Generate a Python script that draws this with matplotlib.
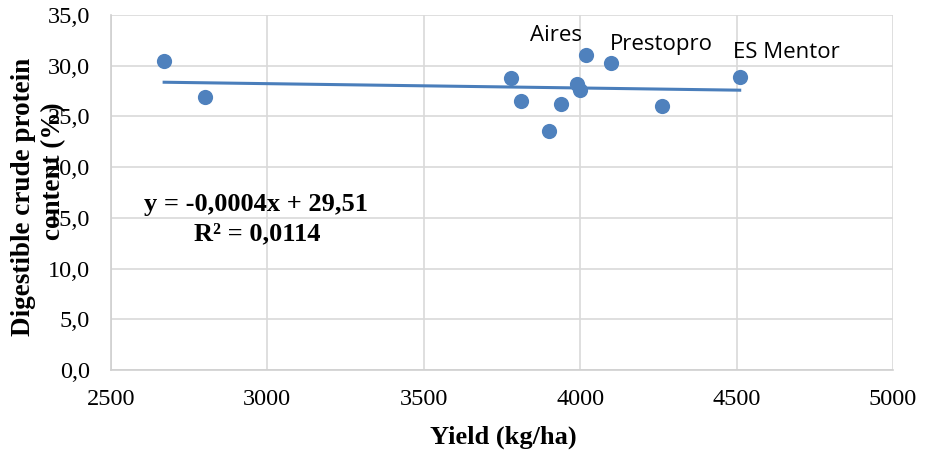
import numpy as np
import matplotlib
matplotlib.use("Agg")
import matplotlib.pyplot as plt
from matplotlib.ticker import FuncFormatter

# Rendement (kg/ha) et teneur en protéines brutes digestibles (%)
yield_kg = [2670, 2800, 3780, 3810, 3900, 3940, 3990, 4000, 4020, 4100, 4260, 4510]
protein = [30.5, 26.9, 28.8, 26.5, 23.6, 26.2, 28.2, 27.6, 31.1, 30.3, 26.0, 28.9]
label_names = ["Aires", "Prestopro", "ES Mentor"]
label_points = [(4020, 31.1), (4100, 30.3), (4510, 28.9)]

x_ticks = [2500, 3000, 3500, 4000, 4500, 5000]
y_ticks = [0, 5, 10, 15, 20, 25, 30, 35]

serif = ["Liberation Serif", "DejaVu Serif"]
sans = ["Open Sans", "DejaVu Sans"]

fig = plt.figure(figsize=(9.27, 4.53), dpi=100)
ax = fig.add_axes([0.1197, 0.1832, 0.8436, 0.7837])

ax.scatter(yield_kg, protein, s=120, color="#4f81bd", zorder=3, linewidths=0)

# Droite de tendance linéaire (sur l'étendue des données)
a, b = np.polyfit(yield_kg, protein, 1)
xs = np.array([min(yield_kg), max(yield_kg)])
ax.plot(xs, a * xs + b, color="#4a7ebb", lw=2.2, zorder=2)

offsets = [(-22, 14), (36, 13), (33.5, 17.5)]
for name, pt, off in zip(label_names, label_points, offsets):
    ax.annotate(name, pt, xytext=off, textcoords="offset points",
                ha="center", va="center", fontsize=16, family=sans, color="#000000")

fig.text(256 / 927, 1 - 205 / 453, "y = -0,0004x + 29,51", ha="center", va="center",
         fontsize=19, fontweight="bold", family=serif)
fig.text(257 / 927, 1 - 234 / 453, "R² = 0,0114", ha="center", va="center",
         fontsize=19, fontweight="bold", family=serif)

ax.set_xlim(2500, 5000)
ax.set_ylim(0, 35)
ax.set_xticks(x_ticks)
ax.set_yticks(y_ticks)
ax.yaxis.set_major_formatter(FuncFormatter(lambda v, p: f"{v:.1f}".replace(".", ",")))
for lab in ax.get_xticklabels() + ax.get_yticklabels():
    lab.set_family(serif)
    lab.set_fontsize(17.5)
ax.tick_params(axis="y", length=0, pad=15)
ax.tick_params(axis="x", length=0, pad=14)

ax.grid(True, color="#d9d9d9", lw=1.2)
ax.set_axisbelow(True)
for s in ["top", "right"]:
    ax.spines[s].set_visible(False)
for s in ["left", "bottom"]:
    ax.spines[s].set_color("#d0d0d0")
    ax.spines[s].set_linewidth(1.2)

fig.text(503 / 927, 1 - 437 / 453, "Yield (kg/ha)", ha="center", va="center",
         fontsize=19, fontweight="bold", family=serif)
# titre de l'axe Y sur deux lignes, chevauchant les graduations comme dans l'original
fig.text(24 / 927, 1 - 197 / 453, "Digestible crude protein", ha="center",
         va="center", rotation=90, fontsize=19.5, fontweight="bold", family=serif)
fig.text(54 / 927, 1 - 171 / 453, "content (%)", ha="center",
         va="center", rotation=90, fontsize=19.5, fontweight="bold", family=serif)

fig.savefig("out.png", dpi=100)
